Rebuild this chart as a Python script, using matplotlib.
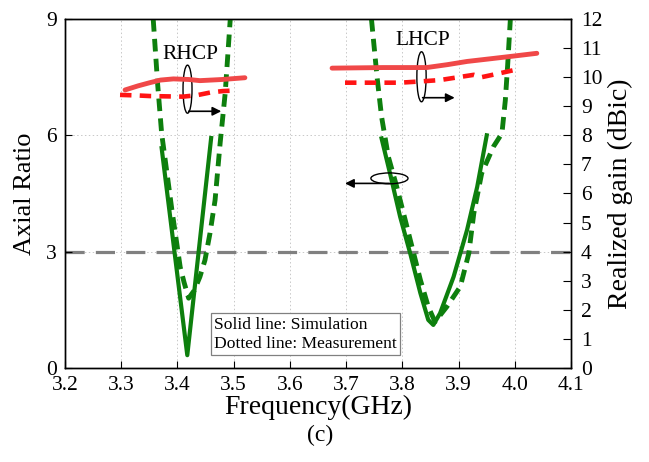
import matplotlib
matplotlib.use("Agg")
import matplotlib.pyplot as plt
from matplotlib.patches import Ellipse

plt.rcParams['font.family'] = ['Liberation Serif', 'DejaVu Serif']

# Axial ratio (left axis)
rh_sim_f = [3.372, 3.385, 3.400, 3.4176, 3.430, 3.445, 3.460]
rh_sim_ar = [5.67, 4.15, 2.39, 0.33, 1.97, 3.95, 5.93]
rh_meas_f = [3.357, 3.365, 3.372, 3.390, 3.405, 3.412, 3.420, 3.430, 3.440, 3.449, 3.458, 3.467, 3.476, 3.485, 3.494]
rh_meas_ar = [9.0, 7.3, 6.05, 4.1, 2.6, 2.2, 1.8, 2.0, 2.35, 2.78, 3.48, 4.33, 5.8, 7.09, 9.0]

lh_sim_f = [3.763, 3.778, 3.796, 3.814, 3.832, 3.846, 3.855, 3.867, 3.891, 3.915, 3.933, 3.950]
lh_sim_ar = [5.92, 5.02, 3.90, 2.95, 1.93, 1.24, 1.11, 1.41, 2.35, 3.56, 4.67, 6.00]
lh_meas_f = [3.745, 3.755, 3.763, 3.775, 3.790, 3.802, 3.817, 3.832, 3.846, 3.858, 3.879, 3.903,
             3.918, 3.927, 3.941, 3.962, 3.977, 3.983, 3.987, 3.992]
lh_meas_ar = [9.0, 7.5, 6.48, 5.45, 4.67, 3.99, 3.13, 2.27, 1.58, 1.19, 1.58, 2.10,
              2.95, 3.99, 5.02, 5.71, 6.05, 6.9, 7.77, 9.0]

# Realized gain (right axis)
rh_gain_sim_f = [3.307, 3.330, 3.351, 3.370, 3.393, 3.420, 3.440, 3.480, 3.520]
rh_gain_sim = [9.56, 9.70, 9.81, 9.90, 9.94, 9.92, 9.88, 9.92, 9.98]
rh_gain_meas_f = [3.298, 3.330, 3.351, 3.380, 3.410, 3.435, 3.458, 3.480, 3.500]
rh_gain_meas = [9.39, 9.37, 9.35, 9.34, 9.33, 9.38, 9.47, 9.52, 9.54]

lh_gain_sim_f = [3.675, 3.720, 3.766, 3.800, 3.843, 3.880, 3.915, 3.960, 4.000, 4.039]
lh_gain_sim = [10.31, 10.32, 10.33, 10.33, 10.33, 10.43, 10.54, 10.64, 10.73, 10.82]
lh_gain_meas_f = [3.698, 3.750, 3.796, 3.830, 3.867, 3.900, 3.927, 3.941, 3.970, 4.000]
lh_gain_meas = [9.81, 9.81, 9.81, 9.85, 9.90, 10.00, 10.08, 10.00, 10.12, 10.25]

x_ticks = [3.2, 3.3, 3.4, 3.5, 3.6, 3.7, 3.8, 3.9, 4.0, 4.1]
ar_ticks = [0, 3, 6, 9]
gain_ticks = list(range(0, 13))

green = '#0d7f0d'
red_solid = '#f04848'
red_dash = '#ff1414'

fig = plt.figure(figsize=(6.49, 4.62), dpi=100)
ax = fig.add_axes([0.100, 0.2035, 0.780, 0.7554])
ax2 = ax.twinx()

# grid
for xv in x_ticks[1:-1]:
    ax.axvline(xv, color='#c8c8c8', lw=0.7, ls=(0, (1.5, 2.5)), zorder=0)
for yv in [3, 6]:
    ax.axhline(yv, color='#c8c8c8', lw=0.7, ls=(0, (1.5, 2.5)), zorder=0)

# 3 dB reference
ax.axhline(3, color='#808080', lw=2.3, ls=(0, (6, 3.5)), zorder=1)

# axial ratio curves
ax.plot(rh_sim_f, rh_sim_ar, color=green, lw=3.0, zorder=3)
ax.plot(rh_meas_f, rh_meas_ar, color=green, lw=3.5, ls=(0, (2.6, 1.5)), zorder=3)
ax.plot(lh_sim_f, lh_sim_ar, color=green, lw=3.0, zorder=3)
ax.plot(lh_meas_f, lh_meas_ar, color=green, lw=3.5, ls=(0, (2.6, 1.5)), zorder=3)

# gain curves
ax2.plot(rh_gain_sim_f, rh_gain_sim, color=red_solid, lw=3.5, solid_capstyle='round')
ax2.plot(rh_gain_meas_f, rh_gain_meas, color=red_dash, lw=3.3, ls=(0, (2.5, 1.8)))
ax2.plot(lh_gain_sim_f, lh_gain_sim, color=red_solid, lw=3.5, solid_capstyle='round')
ax2.plot(lh_gain_meas_f, lh_gain_meas, color=red_dash, lw=3.3, ls=(0, (2.5, 1.8)))

ax.set_xlim(3.2, 4.1)
ax.set_ylim(0, 9)
ax2.set_ylim(0, 12)
ax.set_xticks(x_ticks)
ax.set_xticklabels(['%.1f' % v for v in x_ticks])
ax.set_yticks(ar_ticks)
ax2.set_yticks(gain_ticks)

ax.tick_params(axis='x', direction='in', length=5, labelsize=15.5, pad=6, top=False)
ax.tick_params(axis='y', direction='in', length=5, labelsize=15.5, pad=6)
ax2.tick_params(axis='y', direction='in', length=6, labelsize=15.5, pad=7)
for a in (ax, ax2):
    for s in a.spines.values():
        s.set_linewidth(1.0)

ax.set_ylabel('Axial Ratio', fontsize=19, labelpad=7)
ax2.set_ylabel('Realized gain (dBic)', fontsize=20, labelpad=4)
ax.set_xlabel('Frequency(GHz)', fontsize=20, labelpad=0)
fig.text(0.493, 0.058, '(c)', fontsize=17, ha='center', va='center')

# annotations
ax.text(3.4224, 8.09, 'RHCP', fontsize=15.5, ha='center', va='center')
ax.text(3.836, 8.45, 'LHCP', fontsize=15.5, ha='center', va='center')
ax.add_patch(Ellipse((3.418, 7.19), 0.016, 1.24, fill=False, ec='k', lw=1.0, zorder=5))
ax.add_patch(Ellipse((3.834, 7.51), 0.0165, 1.29, fill=False, ec='k', lw=1.0, zorder=5))
ax.add_patch(Ellipse((3.777, 4.89), 0.066, 0.28, fill=False, ec='k', lw=1.0, zorder=5))
arrow = dict(arrowstyle='-|>', color='k', lw=1.2, mutation_scale=13, shrinkA=0, shrinkB=0)
ax.annotate('', xy=(3.478, 6.62), xytext=(3.420, 6.62), arrowprops=arrow, zorder=5)
ax.annotate('', xy=(3.893, 6.97), xytext=(3.836, 6.97), arrowprops=arrow, zorder=5)
ax.annotate('', xy=(3.698, 4.76), xytext=(3.777, 4.76), arrowprops=arrow, zorder=5)

ax.text(3.4655, 0.42, 'Solid line: Simulation\nDotted line: Measurement', fontsize=12.6,
        ha='left', va='bottom', linespacing=1.26, zorder=6,
        bbox=dict(boxstyle='square,pad=0.2', fc='white', ec='#808080', lw=0.9))

fig.savefig('out.png', dpi=100)
